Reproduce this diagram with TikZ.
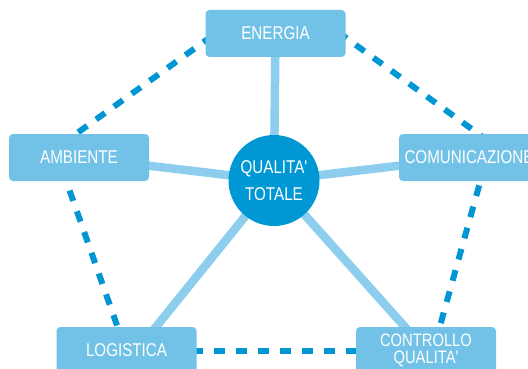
\documentclass[tikz,border=0pt]{standalone}
\usepackage{fontspec}
\newfontfamily\labelfont[FakeStretch=0.82]{Liberation Sans}
\usetikzlibrary{backgrounds}
\definecolor{boxblue}{HTML}{72C2E8}
\definecolor{coreblue}{HTML}{0098D4}
\definecolor{lineblue}{HTML}{8DCEEE}
\definecolor{dashblue}{HTML}{0096D3}
\tikzset{
  area/.style  = {rectangle, rounded corners=4pt, fill=boxblue, text=white,
                  minimum width=140pt, minimum height=47pt, inner sep=0pt,
                  align=center, font=\labelfont\fontsize{18.5}{17}\selectfont},
  core/.style  = {circle, fill=coreblue, text=white, minimum size=91pt,
                  inner sep=0pt, align=center,
                  font=\labelfont\fontsize{18.5}{26.5}\selectfont},
  link/.style  = {lineblue, line width=8.5pt},
  loose/.style = {dashblue, line width=6pt, dash pattern=on 11pt off 11pt}
}

\begin{document}
\begin{tikzpicture}[x=1pt,y=-1pt]
  \useasboundingbox (0,0) rectangle (528,369);
  \clip (0,0) rectangle (528,369);
  \node[core] (qt) at (274,180.5) {QUALITA'\\TOTALE};
  \node[area] (energia) at (275.5,33.5) {ENERGIA};
  \node[area] (ambiente) at (79,157.5) {AMBIENTE};
  \node[area] (comunicazione) at (469,157.5) {COMUNICAZIONE};
  \node[area] (logistica) at (126.5,350.5) {LOGISTICA};
  \node[area, font=\labelfont\fontsize{18}{17}\selectfont] (controllo) at (426,350.5) {CONTROLLO\\QUALITA'};
  \coordinate (el) at (230,23);
  \coordinate (er) at (320,19);
  \coordinate (am) at (55,149);
  \coordinate (co) at (491,143);
  \coordinate (lo) at (126,351);
  \coordinate (cq) at (433,351);
  \begin{scope}[on background layer]
    \draw[link] (qt.center) -- (energia.center);
    \draw[link] (qt.center) -- (ambiente.center);
    \draw[link] (qt.center) -- (comunicazione.center);
    \draw[link] (qt.center) -- ([xshift=10.5pt]logistica.center);
    \draw[link] (qt.center) -- (controllo.center);
    \draw[loose] (el) -- (am);
    \draw[loose] (er) -- (co);
    \draw[loose] (am) -- (lo);
    \draw[loose] (co) -- (cq);
    \draw[loose] (lo) -- (cq);
  \end{scope}
\end{tikzpicture}
\end{document}
